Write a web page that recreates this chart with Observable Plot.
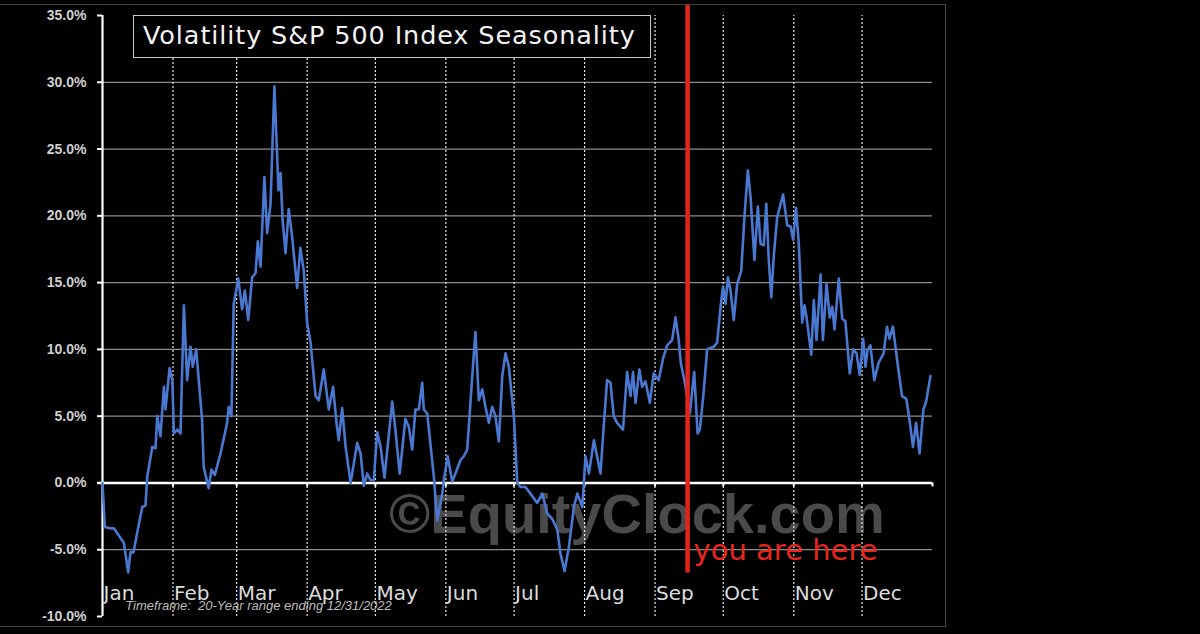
<!DOCTYPE html>
<html>
<head>
<meta charset="utf-8">
<script src="https://cdn.jsdelivr.net/npm/d3@7"></script>
<script src="https://cdn.jsdelivr.net/npm/@observablehq/plot@0.6"></script>
<style>
  html, body { margin: 0; padding: 0; background: #000; }
  #wrap { position: relative; width: 1200px; height: 634px; overflow: hidden; background: #000; }
  #frame { position: absolute; left: -2px; top: 4px; width: 948px; height: 623px; border: 1px solid #444; box-sizing: border-box; pointer-events: none; }
  #title { position: absolute; left: 133px; top: 15px; width: 518px; height: 43px; box-sizing: border-box;
           border: 1.5px solid #c8c8c8; background: #000; color: #f2f2f2; font-family: "DejaVu Sans", sans-serif;
           font-size: 25.5px; letter-spacing: 0.9px; line-height: 39px; padding-left: 9px; white-space: nowrap; }
  #chart { position: absolute; left: 0; top: 0; }
</style>
</head>
<body>
<div id="wrap">
  <div id="chart"></div>
  <div id="frame"></div>
  <div id="title">Volatility S&amp;P 500 Index Seasonality</div>
</div>
<script>
// Day of year (0 = Jan 1) and seasonal change (%)
const days = [0,1.0,3.5,5.0,9.4,11.3,12.3,13.6,15.3,17.5,18.9,19.7,21.9,23.3,24.1,25.5,27.0,27.7,29.5,30.7,31.4,32.9,34.3,35.8,37.2,38.7,39.7,41.2,43.8,44.5,46.7,47.9,49.4,51.9,54.8,55.5,56.7,57.7,59.7,61.4,62.6,64.1,65.8,67.3,68.3,69.5,71.2,72.4,73.9,75.6,77.4,78.3,79.2,80.5,81.9,83.4,85.6,87.0,88.5,90.0,91.5,93.7,95.1,97.3,99.5,101.4,102.9,103.9,105.4,106.9,109.1,112.0,113.5,114.9,116.4,117.9,119.3,120.8,122.3,124.0,127.4,128.8,130.7,133.2,134.7,136.2,137.6,139.1,140.6,141.3,142.8,145.7,147.2,149.4,150.1,151.8,153.8,155.2,157.4,158.9,160.4,162.6,164.0,165.5,167.0,168.4,169.9,171.4,172.8,174.3,175.8,177.2,178.7,180.9,182.4,183.8,186.0,188.2,191.2,193.4,195.6,197.8,200.0,201.4,203.2,205.1,207.3,208.8,211.0,212.4,213.9,216.1,217.5,219.0,220.4,221.9,223.4,224.8,226.3,228.9,230.7,232.2,233.3,234.4,236.1,237.3,238.8,240.7,242.4,244.6,246.5,248.3,250.5,252.0,253.4,254.3,256.1,258.3,260.2,261.7,262.7,264.2,265.9,267.4,268.8,270.3,271.8,272.9,274.0,275.0,276.2,277.6,279.1,280.9,282.3,283.8,285.0,286.7,288.2,289.4,290.8,291.9,293.0,294.1,295.2,296.7,299.3,301.1,302.6,303.7,305.0,306.2,307.7,308.7,309.6,311.7,312.8,314.0,315.8,316.8,318.4,319.8,320.9,321.9,323.8,325.3,326.7,328.6,330.1,331.6,333.0,334.5,335.5,336.5,337.7,339.4,341.3,343.5,345.0,346.1,347.6,349.6,351.6,353.5,354.9,356.4,357.8,359.3,361.0,362.2,364.1];
const pct = [0,-3.3,-3.4,-3.4,-4.5,-6.7,-5.2,-5.2,-3.7,-1.8,-1.7,0.5,2.7,2.6,5.0,3.5,7.2,5.5,8.6,7.7,3.7,4.0,3.7,13.3,7.7,10.2,8.7,10.0,4.7,1.2,-0.4,1.0,0.6,2.2,4.5,5.7,5.0,13.4,15.3,13.0,14.4,12.2,15.4,15.7,18.1,16.2,22.9,18.7,20.9,29.7,21.9,23.2,19.7,17.2,20.5,18.4,14.6,17.6,15.9,12.0,10.5,6.5,6.2,8.5,5.5,7.2,4.5,3.2,5.6,2.7,0.0,3.0,2.2,-0.2,0.7,0.2,0.2,3.8,2.7,0.4,6.1,4.0,0.7,4.8,4.2,2.5,5.5,5.5,7.5,5.5,5.2,0.5,-2.8,-0.8,0.2,2.0,0.1,0.7,1.7,2.0,2.5,8.0,11.3,6.2,7.0,5.7,4.5,5.7,5.0,3.1,8.0,9.7,8.7,5.0,0.0,-0.3,-0.3,-0.8,-1.5,-0.8,-2.3,-2.7,-3.5,-5.3,-6.6,-4.8,-1.8,-0.8,-1.8,2.0,0.7,3.2,2.0,0.7,4.2,7.7,7.5,5.0,4.5,4.0,8.3,6.5,8.3,6.0,8.5,7.2,7.6,6.0,8.2,7.7,9.3,10.3,10.7,12.4,10.7,9.0,7.5,5.2,8.3,3.7,4.0,6.5,10.0,10.1,10.2,10.5,13.2,14.7,13.4,15.4,14.4,12.2,14.9,15.9,19.9,23.4,21.4,16.7,20.7,17.9,17.8,20.9,16.7,13.9,17.0,19.9,21.6,19.3,19.2,18.2,20.6,17.9,12.0,13.3,12.4,9.6,13.7,10.7,15.6,10.7,14.9,12.4,13.2,11.5,15.3,12.3,12.1,8.2,10.0,9.7,8.1,10.8,8.7,10.0,10.3,7.7,9.0,9.7,11.7,10.8,11.7,9.0,6.5,6.3,4.7,2.7,4.5,2.2,5.5,6.1,8.0];

const monthNames = ["Jan","Feb","Mar","Apr","May","Jun","Jul","Aug","Sep","Oct","Nov","Dec"];
const monthStarts = [0,31,59,90,120,151,181,212,243,273,304,334];
const yTicks = [-10,-5,0,5,10,15,20,25,30,35];
const yGrid = [-5,5,10,15,20,25,30];

// annotations (in data space)
const currentDay = [257.3];           // "you are here" marker
const markerRange = [-6.75, 35.75];
const watermark = [{label: "\u00A9EquityClock.com", day: 235, pct: -2.4}];
const youAreHere = [{label: "you are here", day: 257.3, pct: -5.8}];
const footnote = [{label: "Timeframe:  20-Year range ending 12/31/2022", day: 10, pct: -9.5}];

const data = days.map((d, i) => ({day: d, pct: pct[i]}));

const chart = Plot.plot({
  width: 1200,
  height: 634,
  marginLeft: 102,
  marginRight: 268,
  marginTop: 15,
  marginBottom: 18,
  style: {background: "#000", color: "#ccc", fontFamily: "DejaVu Sans, sans-serif"},
  x: {domain: [0, 365], axis: null},
  y: {domain: [-10, 35], axis: null},
  marks: [
    Plot.ruleY(yGrid, {x1: 0, x2: 365, stroke: "#8c8c8c", strokeWidth: 1.2}),
    Plot.text(watermark, {x: "day", y: "pct", text: "label", fontSize: 56, fontWeight: "bold",
      fontFamily: "Liberation Sans, Arial, sans-serif", fill: "#4a4a4a", textAnchor: "middle"}),
    Plot.ruleX(monthStarts.slice(1), {y1: -10, y2: 35, stroke: "#e6e6e6", strokeWidth: 1.2, strokeDasharray: "2,2"}),
    Plot.ruleX([0], {y1: -10, y2: 35, stroke: "#fff", strokeWidth: 2.2}),
    Plot.axisY(yTicks, {anchor: "left", label: null, tickSize: 5, tickPadding: 11, stroke: "#fff", strokeWidth: 2,
      fill: "#d0d0d0", fontSize: 14, fontWeight: "bold", fontFamily: "Liberation Sans, Arial, sans-serif",
      tickFormat: d => d.toFixed(1) + "%"}),
    Plot.ruleY([0], {x1: -2, x2: 365, stroke: "#fff", strokeWidth: 2.6}),
    Plot.ruleX(monthStarts.slice(1).concat([365]), {y1: 0, y2: -0.3, stroke: "#fff", strokeWidth: 2}),
    Plot.line(data, {x: "day", y: "pct", stroke: "#4a78d0", strokeWidth: 2.6, strokeLinejoin: "round"}),
    Plot.ruleX(currentDay, {y1: markerRange[0], y2: markerRange[1], stroke: "#e3241b", strokeWidth: 4.5}),
    Plot.text(youAreHere, {x: "day", y: "pct", text: "label", textAnchor: "start", lineAnchor: "bottom", dx: 6,
      fontSize: 29, fill: "#e8261e", fontFamily: "DejaVu Sans, sans-serif"}),
    Plot.text(monthNames, {x: monthStarts, text: d => d, frameAnchor: "bottom", lineAnchor: "bottom",
      textAnchor: "start", dx: 1, dy: -17, fontSize: 20, fill: "#dcdcdc", fontFamily: "DejaVu Sans, sans-serif"}),
    Plot.text(footnote, {x: "day", y: "pct", text: "label", textAnchor: "start", lineAnchor: "bottom",
      fontSize: 13, fontStyle: "italic", fill: "#bdbdbd", fontFamily: "Liberation Sans, Arial, sans-serif"})
  ]
});
document.getElementById("chart").appendChild(chart);
</script>
</body>
</html>
